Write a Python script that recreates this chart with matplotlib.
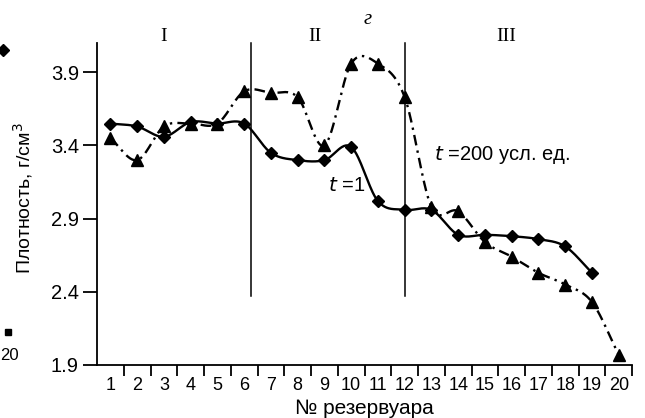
import numpy as np
import matplotlib
matplotlib.use("Agg")
import matplotlib.pyplot as plt
from matplotlib.lines import Line2D

# ---- data ----
tanks = list(range(1, 21))
tank_labels = [str(i) for i in tanks]
t1_x = list(range(1, 20))
t1_density = [3.55, 3.53, 3.46, 3.56, 3.55, 3.55, 3.35, 3.30, 3.30, 3.39,
              3.02, 2.96, 2.96, 2.79, 2.79, 2.78, 2.76, 2.71, 2.53]
t200_x = list(range(1, 21))
t200_density = [3.45, 3.30, 3.53, 3.55, 3.55, 3.77, 3.76, 3.73, 3.40, 3.96,
                3.96, 3.73, 2.98, 2.95, 2.74, 2.64, 2.53, 2.45, 2.33, 1.97]
y_ticks = [1.9, 2.4, 2.9, 3.4, 3.9]
zone_bounds = [6.25, 12.0]
zone_names = ["I", "II", "III"]
zone_label_x = [3.0, 8.65, 15.8]


def catmull_rom(x, y, n=30):
    x = np.asarray(x, float)
    y = np.asarray(y, float)
    px = np.concatenate([[2 * x[0] - x[1]], x, [2 * x[-1] - x[-2]]])
    py = np.concatenate([[2 * y[0] - y[1]], y, [2 * y[-1] - y[-2]]])
    xs, ys = [], []
    for i in range(1, len(px) - 2):
        t = np.linspace(0, 1, n, endpoint=False)
        m0x = (px[i + 1] - px[i - 1]) / 2
        m1x = (px[i + 2] - px[i]) / 2
        m0y = (py[i + 1] - py[i - 1]) / 2
        m1y = (py[i + 2] - py[i]) / 2
        h00 = 2 * t**3 - 3 * t**2 + 1
        h10 = t**3 - 2 * t**2 + t
        h01 = -2 * t**3 + 3 * t**2
        h11 = t**3 - t**2
        xs.append(h00 * px[i] + h10 * m0x + h01 * px[i + 1] + h11 * m1x)
        ys.append(h00 * py[i] + h10 * m0y + h01 * py[i + 1] + h11 * m1y)
    xs.append([x[-1]])
    ys.append([y[-1]])
    return np.concatenate(xs), np.concatenate(ys)


plt.rcParams['font.family'] = ['Liberation Sans', 'DejaVu Sans']

fig = plt.figure(figsize=(6.45, 4.18), dpi=100)
ax = fig.add_axes([0.1504, 0.1268, 0.8296, 0.7702])

ax.set_xlim(0.5, 20.5)
ax.set_ylim(1.9, 4.1)

# smoothed curves
sx, sy = catmull_rom(t1_x, t1_density)
ax.plot(sx, sy, color='black', lw=1.7, solid_capstyle='round', zorder=3)
ax.plot(t1_x, t1_density, linestyle='none', marker='D', ms=6.5,
        color='black', zorder=4)

sx2, sy2 = catmull_rom(t200_x, t200_density)
ax.plot(sx2, sy2, color='black', lw=1.7, linestyle=(0, (4.5, 2.2, 1.0, 2.2)),
        zorder=3)
ax.plot(t200_x, t200_density, linestyle='none', marker='^', ms=9,
        color='black', zorder=4)

# zone boundaries
for xb in zone_bounds:
    ax.plot([xb, xb], [2.37, 4.1], color='black', lw=1.1, zorder=2,
            clip_on=False)

# spines
for s in ['top', 'right']:
    ax.spines[s].set_visible(False)
for s in ['left', 'bottom']:
    ax.spines[s].set_linewidth(1.3)

# ticks
ax.set_yticks(y_ticks)
ax.set_yticklabels([f"{v:.1f}" for v in y_ticks])
ax.tick_params(axis='y', direction='out', length=10, width=1.3, labelsize=14.5,
               pad=3)
ax.set_xticks([i + 0.5 for i in tanks])
ax.set_xticklabels([])
ax.tick_params(axis='x', which='major', direction='out', length=8, width=1.3)
ax.set_xticks(tanks, minor=True)
ax.set_xticklabels(tank_labels, minor=True)
ax.tick_params(axis='x', which='minor', length=0, labelsize=13, pad=9)

ax.set_xlabel("№ резервуара", fontsize=15, labelpad=3)
ax.set_ylabel("Плотность, г/см$^3$", fontsize=14)
ax.yaxis.set_label_coords(-0.115, 0.52)

# zone labels
for name, xl in zip(zone_names, zone_label_x):
    ax.text(xl, 4.117, name, family=['Liberation Serif', 'DejaVu Serif'],
            fontsize=14, ha='center', va='baseline', clip_on=False)
ax.text(10.6, 4.23, "г", family=['Liberation Serif', 'DejaVu Serif'],
        style='italic', fontsize=15, ha='center', va='baseline', clip_on=False)

# curve labels
ax.text(9.15, 3.13, "$t$ =1", fontsize=14.5, ha='left', va='center',
        math_fontfamily='dejavusans')
ax.text(13.1, 3.335, "$t$ =200 усл. ед.", fontsize=14.5, ha='left',
        va='center', math_fontfamily='dejavusans')

# residual fragments of neighbouring panel at the left edge
fig.add_artist(Line2D([3 / 645], [1 - 50 / 418], marker='D', ms=6.5,
                      color='black', transform=fig.transFigure))
fig.add_artist(Line2D([8 / 645], [1 - 332 / 418], marker='s', ms=5,
                      color='black', transform=fig.transFigure))
fig.text(0.5 / 645, 1 - 356 / 418, "20", fontsize=12, ha='left', va='center')

fig.savefig("out.png", dpi=100)
